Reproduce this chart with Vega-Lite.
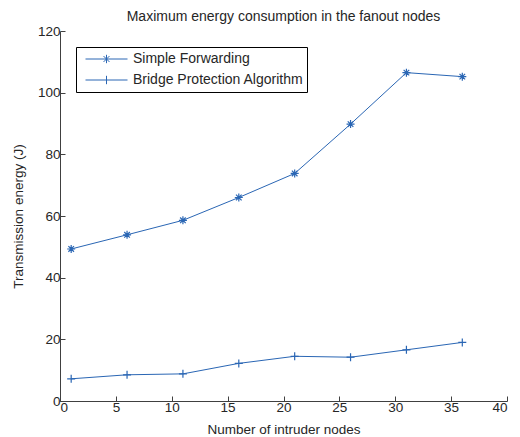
{
  "$schema": "https://vega.github.io/schema/vega-lite/v6.json",
  "autosize": "none",
  "width": 447,
  "height": 370,
  "padding": {"left": 60, "top": 31, "right": 13, "bottom": 36},
  "background": "white",
  "title": {"text": "Maximum energy consumption in the fanout nodes", "fontSize": 14, "fontWeight": "normal", "font": "Liberation Sans", "color": "#262626", "offset": 0, "anchor": "middle"},
  "config": {
    "view": {"stroke": null},
    "axis": {"labelFont": "Liberation Sans", "titleFont": "Liberation Sans", "labelFontSize": 13.5, "titleFontSize": 13.5, "titleFontWeight": "normal", "labelColor": "#262626", "titleColor": "#262626", "domainColor": "#404040", "tickColor": "#404040", "grid": false, "tickSize": -5, "domainWidth": 1}
  },
  "data": {"values": [
    {"nodes": 1, "energy": 49.3, "series": "Simple Forwarding"},
    {"nodes": 6, "energy": 53.9, "series": "Simple Forwarding"},
    {"nodes": 11, "energy": 58.6, "series": "Simple Forwarding"},
    {"nodes": 16, "energy": 66.0, "series": "Simple Forwarding"},
    {"nodes": 21, "energy": 73.8, "series": "Simple Forwarding"},
    {"nodes": 26, "energy": 89.8, "series": "Simple Forwarding"},
    {"nodes": 31, "energy": 106.5, "series": "Simple Forwarding"},
    {"nodes": 36, "energy": 105.2, "series": "Simple Forwarding"},
    {"nodes": 1, "energy": 7.2, "series": "Bridge Protection Algorithm"},
    {"nodes": 6, "energy": 8.5, "series": "Bridge Protection Algorithm"},
    {"nodes": 11, "energy": 8.8, "series": "Bridge Protection Algorithm"},
    {"nodes": 16, "energy": 12.2, "series": "Bridge Protection Algorithm"},
    {"nodes": 21, "energy": 14.5, "series": "Bridge Protection Algorithm"},
    {"nodes": 26, "energy": 14.2, "series": "Bridge Protection Algorithm"},
    {"nodes": 31, "energy": 16.6, "series": "Bridge Protection Algorithm"},
    {"nodes": 36, "energy": 19.0, "series": "Bridge Protection Algorithm"}
  ]},
  "encoding": {
    "x": {"field": "nodes", "type": "quantitative", "scale": {"domain": [0, 40], "nice": false, "zero": false}, "axis": {"title": "Number of intruder nodes", "values": [0, 5, 10, 15, 20, 25, 30, 35, 40], "labelPadding": 4, "titlePadding": 9}},
    "y": {"field": "energy", "type": "quantitative", "scale": {"domain": [0, 120], "nice": false}, "axis": {"title": "Transmission energy (J)", "values": [0, 20, 40, 60, 80, 100, 120], "labelPadding": 5, "titlePadding": 11.5}}
  },
  "resolve": {"scale": {"shape": "independent"}},
  "layer": [
    {"mark": {"type": "line", "color": "#2a66b4", "strokeWidth": 1}, "encoding": {"detail": {"field": "series"}}},
    {"mark": {"type": "point", "filled": false, "color": "#2a66b4", "strokeWidth": 1.2, "size": 64, "opacity": 1},
     "encoding": {"shape": {"field": "series", "type": "nominal",
       "scale": {"domain": ["Simple Forwarding", "Bridge Protection Algorithm"], "range": ["M-1,0H1M0,-1V1M-0.7,-0.7L0.7,0.7M-0.7,0.7L0.7,-0.7", "M-1,0H1M0,-1V1"]},
       "legend": null}}},
    {"mark": {"type": "point", "filled": false, "color": "#2a66b4", "strokeWidth": 1, "size": 1764, "opacity": 0},
     "encoding": {"shape": {"field": "series", "type": "nominal",
       "scale": {"domain": ["Simple Forwarding", "Bridge Protection Algorithm"], "range": ["M-1,0H1M0,-0.2V0.2M-0.14,-0.14L0.14,0.14M-0.14,0.14L0.14,-0.14", "M-1,0H1M0,-0.2V0.2"]},
       "legend": {"title": null, "orient": "top-left", "offset": 16, "padding": 3, "rowPadding": 3, "clipHeight": 18, "symbolSize": 1764, "symbolOffset": 6, "labelOffset": 5, "labelLimit": 400, "labelFont": "Liberation Sans", "labelFontSize": 14, "labelColor": "#262626", "strokeColor": "black", "fillColor": "white", "cornerRadius": 0, "symbolStrokeWidth": 1, "symbolStrokeColor": "#2a66b4", "symbolOpacity": 1}}}}
  ]
}
